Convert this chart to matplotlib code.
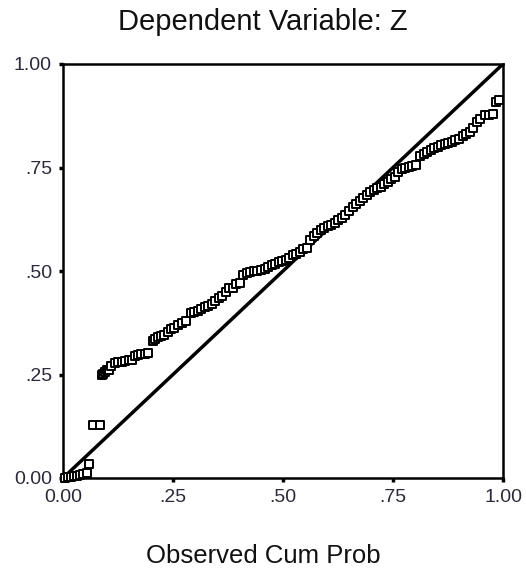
import matplotlib
matplotlib.use("Agg")
import matplotlib.pyplot as plt

observed = [0.005, 0.012, 0.018, 0.025, 0.032, 0.039, 0.046, 0.054, 0.058,
            0.069, 0.083,
            0.088, 0.092, 0.096, 0.100, 0.105, 0.110, 0.118, 0.126, 0.134, 0.142,
            0.150, 0.156, 0.163, 0.170, 0.178, 0.186, 0.194, 0.205, 0.210, 0.216,
            0.222, 0.230, 0.238, 0.245, 0.252, 0.262, 0.270, 0.280, 0.290, 0.298,
            0.306, 0.314, 0.322, 0.330, 0.338, 0.346, 0.354, 0.362, 0.370, 0.378,
            0.386, 0.394, 0.402, 0.410, 0.418, 0.426, 0.434, 0.442, 0.450, 0.458,
            0.466, 0.474, 0.482, 0.490, 0.498, 0.506, 0.514, 0.522, 0.530, 0.538,
            0.546, 0.554, 0.562, 0.570, 0.578, 0.586, 0.594, 0.602, 0.610, 0.618,
            0.626, 0.634, 0.642, 0.650, 0.658, 0.666, 0.674, 0.682, 0.690, 0.698,
            0.706, 0.714, 0.722, 0.730, 0.738, 0.746, 0.754, 0.762, 0.770, 0.778,
            0.786, 0.794, 0.802, 0.812, 0.820, 0.828, 0.836, 0.844, 0.852, 0.860,
            0.868, 0.876, 0.884, 0.892, 0.900, 0.908, 0.916, 0.924, 0.932, 0.940,
            0.948, 0.958, 0.968, 0.978, 0.985, 0.990]
expected = [0.000, 0.002, 0.003, 0.004, 0.006, 0.007, 0.010, 0.012, 0.034,
            0.128, 0.128,
            0.250, 0.252, 0.256, 0.260, 0.262, 0.270, 0.278, 0.280, 0.280, 0.282,
            0.284, 0.285, 0.295, 0.298, 0.300, 0.300, 0.302, 0.330, 0.335, 0.340,
            0.342, 0.345, 0.352, 0.360, 0.362, 0.370, 0.375, 0.380, 0.398, 0.402,
            0.404, 0.408, 0.412, 0.416, 0.420, 0.428, 0.434, 0.440, 0.450, 0.458,
            0.460, 0.468, 0.470, 0.490, 0.496, 0.498, 0.500, 0.500, 0.502, 0.504,
            0.510, 0.514, 0.518, 0.522, 0.524, 0.526, 0.532, 0.538, 0.540, 0.546,
            0.552, 0.556, 0.575, 0.585, 0.592, 0.598, 0.604, 0.608, 0.612, 0.616,
            0.622, 0.628, 0.636, 0.646, 0.654, 0.662, 0.670, 0.676, 0.684, 0.690,
            0.696, 0.700, 0.704, 0.710, 0.716, 0.722, 0.728, 0.738, 0.746, 0.750,
            0.752, 0.754, 0.756, 0.778, 0.782, 0.788, 0.792, 0.798, 0.800, 0.804,
            0.806, 0.810, 0.812, 0.816, 0.820, 0.826, 0.830, 0.836, 0.846, 0.860,
            0.866, 0.876, 0.878, 0.880, 0.908, 0.912]

ticks = [0.0, 0.25, 0.5, 0.75, 1.0]
tick_labels = ["0.00", ".25", ".50", ".75", "1.00"]

plt.rcParams['font.family'] = ['Liberation Sans', 'DejaVu Sans']

fig = plt.figure(figsize=(5.26, 5.71), dpi=100)
ax = fig.add_axes([63/526, (571-478)/571, 440/526, 414/571])

ax.plot([0, 1], [0, 1], color="black", lw=2.5, zorder=2, solid_capstyle="butt")
ax.scatter(observed, expected, marker="s", s=26, facecolors="white",
           edgecolors="black", linewidths=1.4, zorder=3, clip_on=False)

ax.set_xlim(0, 1)
ax.set_ylim(0, 1)
ax.set_xticks(ticks)
ax.set_xticklabels(tick_labels)
ax.set_yticks(ticks)
ax.set_yticklabels(tick_labels)
for s in ax.spines.values():
    s.set_linewidth(1.8)
ax.tick_params(direction="out", length=3, width=2.5, labelsize=14,
               labelcolor="#2a2a3a", pad=5)

fig.text(0.5, 1 - 22/571, "Dependent Variable: Z", ha="center", va="center",
         fontsize=21, color="#111111")
fig.text(0.5, 1 - 556/571, "Observed Cum Prob", ha="center", va="center",
         fontsize=18.5, color="#111111")

fig.savefig("out.png", dpi=100)
